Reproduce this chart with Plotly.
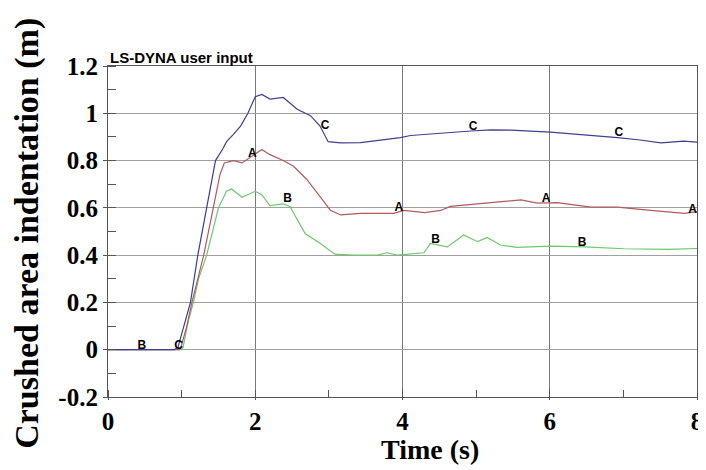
import plotly.graph_objects as go

# ---- data ----
time_c = [0, 0.9, 0.95, 1.05, 1.12, 1.22, 1.34, 1.46, 1.56, 1.61, 1.7, 1.8, 1.9, 2.0, 2.09, 2.2, 2.38,
          2.57, 2.75, 2.88, 2.99, 3.16, 3.43, 3.7, 3.97, 4.11, 4.56, 4.93, 5.2, 5.47, 6.01, 6.46, 6.92,
          7.2, 7.51, 7.82, 8.0]
curve_c = [0, 0, 0.01, 0.12, 0.2, 0.4, 0.6, 0.8, 0.85, 0.88, 0.91, 0.946, 1.0, 1.07, 1.08, 1.06, 1.067,
           1.017, 0.99, 0.946, 0.88, 0.875, 0.876, 0.885, 0.897, 0.906, 0.918, 0.925, 0.93, 0.929, 0.92,
           0.91, 0.897, 0.888, 0.875, 0.882, 0.878]

time_a = [0, 0.97, 1.0, 1.07, 1.14, 1.22, 1.3, 1.43, 1.52, 1.58, 1.7, 1.82, 1.96, 2.09, 2.2, 2.38, 2.52,
          2.7, 2.88, 3.02, 3.16, 3.43, 3.88, 4.02, 4.3, 4.52, 4.65, 5.1, 5.61, 5.83, 6.1, 6.56, 6.92,
          7.37, 7.83, 8.0]
curve_a = [0, 0, 0.02, 0.1, 0.2, 0.3, 0.4, 0.6, 0.74, 0.79, 0.80, 0.79, 0.82, 0.847, 0.825, 0.80, 0.776,
           0.72, 0.648, 0.59, 0.57, 0.577, 0.577, 0.589, 0.58, 0.589, 0.606, 0.62, 0.634, 0.62, 0.622,
           0.603, 0.603, 0.589, 0.577, 0.584]

time_b = [0, 1.0, 1.02, 1.09, 1.16, 1.23, 1.34, 1.42, 1.5, 1.61, 1.68, 1.82, 2.0, 2.09, 2.2, 2.38, 2.47,
          2.68, 2.88, 3.08, 3.34, 3.66, 3.79, 3.93, 4.29, 4.38, 4.61, 4.83, 5.02, 5.15, 5.33, 5.56, 6.01,
          6.47, 7.01, 7.6, 8.0]
curve_b = [0, 0, 0.01, 0.12, 0.2, 0.3, 0.4, 0.5, 0.6, 0.67, 0.68, 0.645, 0.67, 0.655, 0.61, 0.617, 0.606,
           0.49, 0.45, 0.404, 0.40, 0.40, 0.41, 0.40, 0.41, 0.45, 0.435, 0.485, 0.457, 0.475, 0.443, 0.433,
           0.438, 0.435, 0.427, 0.424, 0.428]

# curve identification letters (LS-DYNA style)
label_a_x = [1.96, 3.95, 5.95, 7.94]
label_a_y = [0.826, 0.599, 0.638, 0.59]
label_b_x = [0.46, 2.44, 4.45, 6.44]
label_b_y = [0.017, 0.637, 0.464, 0.452]
label_c_x = [0.96, 2.95, 4.96, 6.94]
label_c_y = [0.017, 0.946, 0.943, 0.918]

x_ticks = [0, 2, 4, 6, 8]
y_ticks = [-0.2, 0, 0.2, 0.4, 0.6, 0.8, 1, 1.2]
y_tick_text = ["-0.2", "0", "0.2", "0.4", "0.6", "0.8", "1", "1.2"]

color_a = "#b25a5c"
color_b = "#6cc86c"
color_c = "#3e3e92"

fig = go.Figure()
fig.add_trace(go.Scatter(x=time_b, y=curve_b, mode="lines", line=dict(color=color_b, width=1.2), name="B"))
fig.add_trace(go.Scatter(x=time_a, y=curve_a, mode="lines", line=dict(color=color_a, width=1.2), name="A"))
fig.add_trace(go.Scatter(x=time_c, y=curve_c, mode="lines", line=dict(color=color_c, width=1.2), name="C"))

label_font = dict(family="Liberation Sans", size=12, color="black", weight="bold")
for lx, ly, letter in [(label_a_x, label_a_y, "A"), (label_b_x, label_b_y, "B"), (label_c_x, label_c_y, "C")]:
    fig.add_trace(go.Scatter(x=lx, y=ly, mode="text", text=[letter] * len(lx),
                             textposition="middle center", textfont=label_font, hoverinfo="skip",
                             cliponaxis=False))

tick_font = dict(family="Liberation Serif", size=25, color="black", weight="bold")
fig.update_xaxes(range=[0, 8], tickvals=x_ticks, ticktext=[str(v) for v in x_ticks],
                 showgrid=True, gridcolor="#7a7a7a", gridwidth=1,
                 showline=True, linecolor="#555555", linewidth=1.2, mirror=True,
                 ticks="outside", ticklen=2, tickcolor="#555555",
                 minor=dict(dtick=1, ticks="inside", ticklen=7, tickcolor="#555555", showgrid=False),
                 tickfont=tick_font, zeroline=False, automargin=False)
fig.update_yaxes(range=[-0.2, 1.2], tickvals=y_ticks, ticktext=y_tick_text,
                 showgrid=True, gridcolor="#a0a0a0", gridwidth=1,
                 showline=True, linecolor="#555555", linewidth=1.2, mirror=True,
                 ticks="outside", ticklen=4, tickcolor="#555555",
                 minor=dict(dtick=0.1, ticks="inside", ticklen=8, tickcolor="#555555", showgrid=False),
                 tickfont=tick_font, zeroline=False, automargin=False)

fig.add_annotation(text="Crushed area indentation (m)", xref="paper", yref="paper",
                   x=-0.137, y=0.494, xanchor="center", yanchor="middle", textangle=-90,
                   showarrow=False,
                   font=dict(family="Liberation Serif", size=34, color="black", weight="bold"))
fig.add_annotation(text="Time (s)", xref="paper", yref="paper",
                   x=0.547, y=-0.16, xanchor="center", yanchor="middle", showarrow=False,
                   font=dict(family="Liberation Serif", size=28, color="black", weight="bold"))
fig.add_annotation(text="LS-DYNA user input", xref="paper", yref="paper",
                   x=0.0, y=1.027, xanchor="left", yanchor="middle", showarrow=False,
                   font=dict(family="Liberation Sans", size=15, color="black", weight="bold"))

# the page body adds an 8px offset, so the figure is sized to fill the rest of the window
fig.update_layout(width=698, height=462, margin=dict(l=100, r=9, t=58, b=73),
                  paper_bgcolor="white", plot_bgcolor="white", showlegend=False)

fig.write_html("out.html")
